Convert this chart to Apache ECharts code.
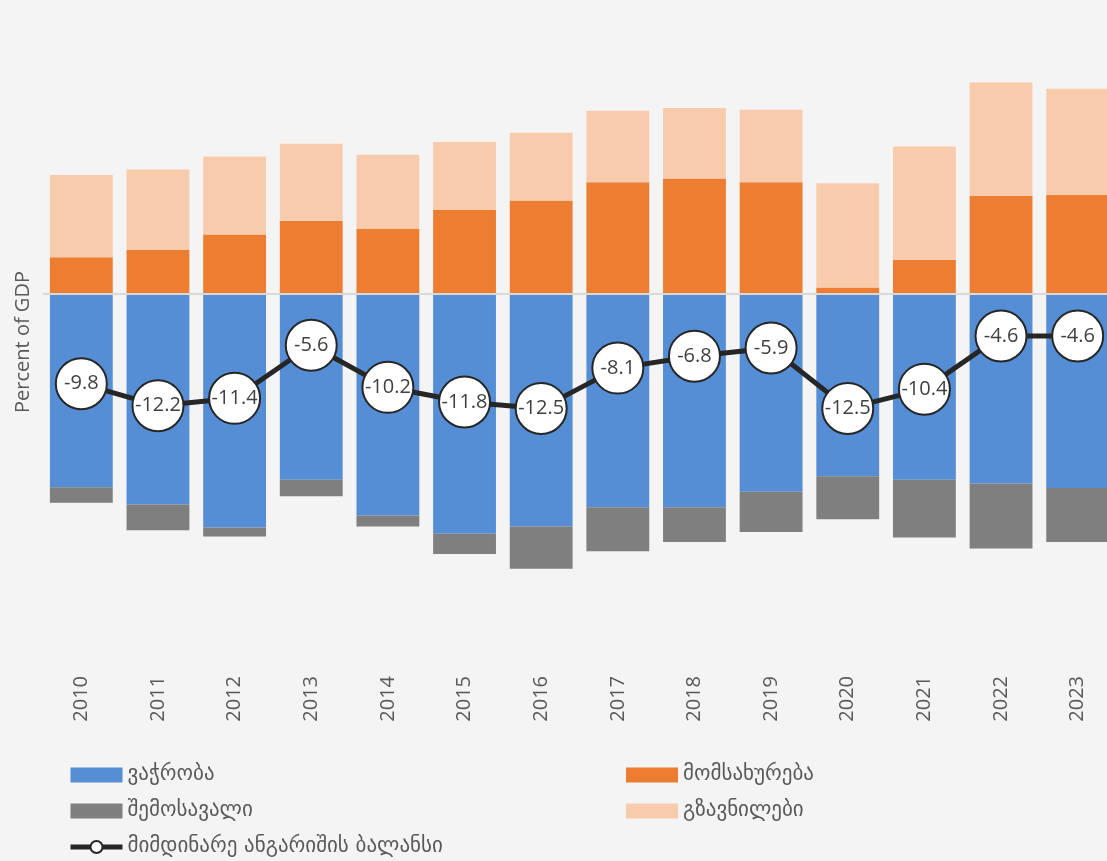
<!DOCTYPE html>
<html lang="ka">
<head>
    <meta charset="UTF-8">
    <title>Current account</title>
    <script src="https://cdn.jsdelivr.net/npm/echarts@6/dist/echarts.min.js"></script>
    <style type="text/css">
        html, body { margin: 0; padding: 0; background: #f4f4f4; }
        #chart { width: 1107px; height: 861px; }
    </style>
</head>
<body>
<div id="chart"></div>
<script type="text/javascript">
    // values, percent of GDP
    var years = ['2010', '2011', '2012', '2013', '2014', '2015', '2016',
                 '2017', '2018', '2019', '2020', '2021', '2022', '2023'];
    var trade = [-21.1, -23.0, -25.5, -20.3, -24.2, -26.2, -25.4,
                 -23.3, -23.3, -21.6, -19.9, -20.3, -20.7, -21.2];
    var income = [-1.7, -2.8, -1.0, -1.8, -1.2, -2.2, -4.6,
                  -4.8, -3.8, -4.4, -4.7, -6.3, -7.1, -5.9];
    var services = [4.0, 4.8, 6.5, 8.0, 7.1, 9.2, 10.2,
                    12.2, 12.6, 12.2, 0.7, 3.7, 10.7, 10.8];
    var remittances = [9.0, 8.8, 8.5, 8.4, 8.1, 7.4, 7.4,
                       7.8, 7.7, 7.9, 11.4, 12.4, 12.4, 11.6];
    var balance = [-9.8, -12.2, -11.4, -5.6, -10.2, -11.8, -12.5,
                   -8.1, -6.8, -5.9, -12.5, -10.4, -4.6, -4.6];

    var names = {
        trade: 'ვაჭრობა',
        services: 'მომსახურება',
        income: 'შემოსავალი',
        remit: 'გზავნილები',
        balance: 'მიმდინარე ანგარიშის ბალანსი'
    };

    var txt = '#595959';
    var legendText = { color: txt, fontSize: 21, lineHeight: 22, fontFamily: '"DejaVu Sans", sans-serif' };
    var chart = echarts.init(document.getElementById('chart'));

    chart.setOption({
        backgroundColor: '#f4f4f4',
        animation: false,
        textStyle: { fontFamily: '"Open Sans", "DejaVu Sans", sans-serif' },
        // the plot runs a little past the right edge, as in the original
        grid: { left: 43, width: 1073, top: 65, bottom: 242, outerBoundsMode: 'none', containLabel: false },
        legend: [{
            left: 68, top: 764, orient: 'vertical', itemGap: 14, padding: 0,
            itemWidth: 52, itemHeight: 15,
            textStyle: legendText,
            data: [
                { name: names.trade, icon: 'rect' },
                { name: names.income, icon: 'rect' },
                { name: names.balance, lineStyle: { width: 5 }, itemStyle: { borderWidth: 2 } }
            ]
        }, {
            left: 626, top: 764, orient: 'vertical', itemGap: 14, padding: 0,
            itemWidth: 52, itemHeight: 15,
            textStyle: legendText,
            data: [
                { name: names.services, icon: 'rect' },
                { name: names.remit, icon: 'rect' }
            ]
        }],
        xAxis: {
            type: 'category',
            data: years,
            axisLine: { show: false, onZero: false },
            axisTick: { show: false },
            axisLabel: { rotate: 90, margin: 57, color: txt, fontSize: 20 }
        },
        yAxis: {
            type: 'value',
            min: -35.5,
            max: 25,
            name: 'Percent of GDP',
            nameLocation: 'middle',
            nameGap: 10,
            nameTextStyle: { color: txt, fontSize: 20 },
            axisLine: { show: false },
            axisTick: { show: false },
            axisLabel: { show: false },
            splitLine: { show: false }
        },
        series: [{
            name: names.trade, type: 'bar', stack: 'ca', barCategoryGap: '18%',
            itemStyle: { color: '#558ed5' },
            data: trade,
            markLine: {
                silent: true, symbol: 'none', label: { show: false },
                lineStyle: { color: '#d9d9d9', width: 2, type: 'solid' },
                data: [{ yAxis: 0 }]
            }
        }, {
            name: names.services, type: 'bar', stack: 'ca',
            itemStyle: { color: '#ed7d31' },
            data: services
        }, {
            name: names.income, type: 'bar', stack: 'ca',
            itemStyle: { color: '#7f7f7f' },
            data: income
        }, {
            name: names.remit, type: 'bar', stack: 'ca',
            itemStyle: { color: '#f8cbad' },
            data: remittances
        }, {
            name: names.balance, type: 'line',
            data: balance,
            z: 5,
            symbol: 'circle',
            symbolSize: 51,
            lineStyle: { color: '#262626', width: 5 },
            itemStyle: { color: '#ffffff', borderColor: '#262626', borderWidth: 2 },
            label: {
                show: true, position: 'inside', color: '#404040', fontSize: 20,
                fontFamily: '"Open Sans", sans-serif'
            }
        }]
    });
</script>
</body>
</html>
